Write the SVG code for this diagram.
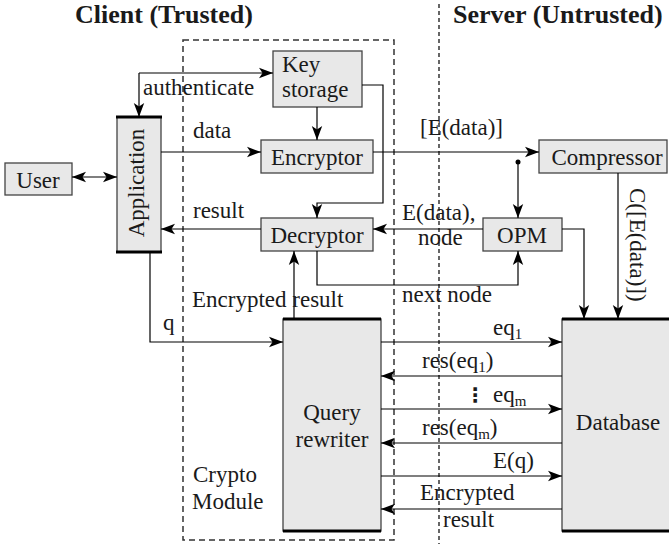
<svg xmlns="http://www.w3.org/2000/svg" width="669" height="544" viewBox="0 0 669 544">
<defs>
<marker id="ah" markerUnits="userSpaceOnUse" markerWidth="15" markerHeight="12" refX="14" refY="6" orient="auto-start-reverse" viewBox="0 0 15 12">
<path d="M0,0.8 L14,6 L0,11.2 L3.5,6 Z" fill="#000"/>
</marker>
<style>
text{font-family:"Liberation Serif","DejaVu Serif","Times New Roman",serif;font-size:23px;fill:#1a1a1a}
.title{font-weight:bold;font-size:26px}
.box{fill:#e8e8e8;stroke:#444;stroke-width:1.3}
.bar{stroke:#000;stroke-width:3}
.arr{fill:none;stroke:#000;stroke-width:1.2;marker-end:url(#ah)}
.mid{text-anchor:middle}
.sub{font-size:15px}
</style>
</defs>

<rect width="669" height="544" fill="#fff"/>

<text class="title" x="75" y="23">Client (Trusted)</text>
<text class="title" x="453" y="23">Server (Untrusted)</text>

<g id="crypto-module">
<rect x="183" y="40" width="211" height="500" fill="none" stroke="#333" stroke-width="1.5" stroke-dasharray="6 4"/>
<text x="193" y="482">Crypto</text>
<text x="192" y="509">Module</text>
</g>
<line id="trust-boundary" x1="439" y1="4" x2="439" y2="544" stroke="#000" stroke-width="1.2" stroke-dasharray="4 3"/>

<g id="user">
<rect class="box" x="5" y="163" width="67" height="32"/>
<text class="mid" x="38" y="188">User</text>
</g>

<g id="application">
<rect class="box" x="117" y="117" width="44" height="135"/>
<line class="bar" x1="116" y1="117" x2="162" y2="117"/>
<line class="bar" x1="116" y1="252" x2="162" y2="252"/>
<text class="mid" transform="translate(144,183) rotate(-90)">Application</text>
</g>

<g id="key-storage">
<rect class="box" x="273" y="51" width="89" height="56"/>
<text x="282" y="72">Key</text>
<text x="282" y="97">storage</text>
</g>

<g id="encryptor">
<rect class="box" x="261" y="140" width="112" height="33"/>
<text class="mid" x="317" y="165">Encryptor</text>
</g>

<g id="decryptor">
<rect class="box" x="261" y="218" width="112" height="33"/>
<text class="mid" x="317" y="243">Decryptor</text>
</g>

<g id="compressor">
<rect class="box" x="539" y="140" width="128" height="33"/>
<text class="mid" x="607" y="165">Compressor</text>
</g>

<g id="opm">
<rect class="box" x="483" y="218" width="79" height="33"/>
<text class="mid" x="522" y="243">OPM</text>
</g>

<g id="query-rewriter">
<rect class="box" x="283" y="319" width="98" height="212"/>
<line class="bar" x1="283" y1="319" x2="381" y2="319"/>
<line class="bar" x1="283" y1="531" x2="381" y2="531"/>
<text class="mid" x="332" y="420">Query</text>
<text class="mid" x="332" y="447">rewriter</text>
</g>

<g id="database">
<rect class="box" x="562" y="319" width="110" height="212"/>
<line class="bar" x1="562" y1="319" x2="669" y2="319"/>
<line class="bar" x1="562" y1="531" x2="669" y2="531"/>
<text class="mid" x="618" y="430">Database</text>
</g>

<g id="connectors">
<line class="arr" x1="72" y1="177" x2="117" y2="177" marker-start="url(#ah)"/>
<path class="arr" d="M139,73 H273"/>
<path class="arr" d="M139,73 V117"/>
<text x="143" y="95">authenticate</text>
<path class="arr" d="M317,107 V140"/>
<path class="arr" d="M362,85 H383 V203 H317 V218"/>
<path class="arr" d="M161,152 H261"/>
<text x="193" y="138">data</text>
<path class="arr" d="M373,152 H539"/>
<text x="420" y="135">[E(data)]</text>
<circle cx="518" cy="162" r="2.5" fill="#000"/>
<path class="arr" d="M518,162 V218"/>
<path class="arr" d="M618,173 V319"/>
<text transform="translate(630,188) rotate(90)">C([E(data)])</text>
<path class="arr" d="M562,229 H584 V319"/>
<path class="arr" d="M483,229 H373"/>
<text x="402" y="220">E(data),</text>
<text x="418" y="245">node</text>
<path class="arr" d="M261,229 H161"/>
<text x="193" y="218">result</text>
<path class="arr" d="M317,251 V285 H518 V251"/>
<text x="402" y="302">next node</text>
<path class="arr" d="M294,319 V251"/>
<text x="192" y="307">Encrypted result</text>
<path class="arr" d="M150,252 V342 H283"/>
<text x="163" y="330">q</text>
<path class="arr" d="M381,342 H562"/>
<text x="493" y="335">eq<tspan class="sub" dy="4">1</tspan></text>
<path class="arr" d="M562,376 H381"/>
<text x="422" y="368">res(eq<tspan class="sub" dy="4">1</tspan><tspan dy="-4">)</tspan></text>
<text x="465" y="402" style="font-family:'DejaVu Sans',sans-serif;font-size:20px;font-weight:bold">⋮</text>
<path class="arr" d="M381,409 H562"/>
<text x="493" y="402">eq<tspan class="sub" dy="4">m</tspan></text>
<path class="arr" d="M562,443 H381"/>
<text x="422" y="435">res(eq<tspan class="sub" dy="4">m</tspan><tspan dy="-4">)</tspan></text>
<path class="arr" d="M381,476 H562"/>
<text x="493" y="468">E(q)</text>
<path class="arr" d="M562,509 H381"/>
<text x="420" y="500">Encrypted</text>
<text x="443" y="527">result</text>
</g>
</svg>
